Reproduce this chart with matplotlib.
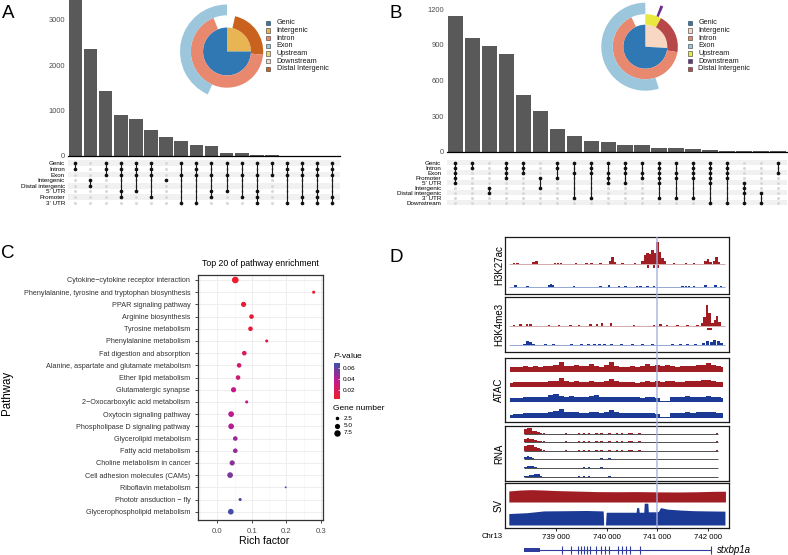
import numpy as np
import matplotlib
matplotlib.use('Agg')
import matplotlib.pyplot as plt
from matplotlib.colors import LinearSegmentedColormap, Normalize
from matplotlib.cm import ScalarMappable
from matplotlib.patches import Rectangle

plt.rcParams['font.family'] = ['Liberation Sans', 'DejaVu Sans']
plt.rcParams['mathtext.fontset'] = 'custom'
plt.rcParams['mathtext.rm'] = 'Liberation Sans'
plt.rcParams['mathtext.it'] = 'Liberation Sans:italic'

# ---------------- A: upset + donut ----------------
a_sets = ['Genic', 'Intron', 'Exon', 'Intergenic', 'Distal intergenic', "5' UTR", 'Promoter', "3' UTR"]
a_counts = [3520, 2360, 1440, 900, 810, 570, 410, 320, 250, 220, 75, 65, 25, 25, 6, 5, 4, 3]
a_combos = [
    ['Genic', 'Intron'],
    ['Intergenic', 'Distal intergenic'],
    ['Genic', 'Intron', 'Exon'],
    ['Genic', 'Intron', 'Exon', "5' UTR", 'Promoter'],
    ['Genic', 'Intron', 'Exon', "5' UTR"],
    ['Genic', 'Intron', 'Exon', 'Promoter'],
    ['Intergenic'],
    ['Genic', 'Exon', "3' UTR"],
    ['Genic', 'Intron', 'Exon', "3' UTR"],
    ['Genic', 'Exon', "5' UTR", 'Promoter'],
    ['Genic', 'Exon', "5' UTR"],
    ['Genic', 'Exon', 'Promoter'],
    ['Genic', 'Exon', "5' UTR", 'Promoter', "3' UTR"],
    ['Genic', 'Exon'],
    ['Genic', 'Intron', 'Exon', "3' UTR"],
    ['Genic', 'Intron', 'Exon', 'Promoter', "3' UTR"],
    ['Genic', 'Intron', 'Exon', "5' UTR", 'Promoter', "3' UTR"],
    ['Genic', 'Intron', 'Exon', 'Promoter', "3' UTR"],
]
a_yticks = [0, 1000, 2000, 3000]
# donut rings: labels, values ('' = not shown)
a_inner_lab, a_inner_val = ['Intergenic', 'Genic'], [25, 75]
a_mid_lab, a_mid_val = ['Distal Intergenic', 'Intron', ''], [22.8, 67.5, 9.7]
a_out_lab, a_out_val = ['', 'Exon'], [56.7, 43.3]

# ---------------- B: upset + donut ----------------
b_sets = ['Genic', 'Intron', 'Exon', 'Promoter', "5' UTR", 'Intergenic', 'Distal intergenic', "3' UTR", 'Downstream']
b_counts = [1145, 955, 890, 825, 480, 345, 190, 135, 95, 80, 55, 55, 30, 30, 25, 18, 12, 8, 5, 5]
b_combos = [
    ['Genic', 'Intron', 'Exon', 'Promoter', "5' UTR"],
    ['Genic', 'Intron'],
    ['Intergenic', 'Distal intergenic'],
    ['Genic', 'Intron', 'Exon', 'Promoter'],
    ['Genic', 'Intron', 'Exon'],
    ['Promoter', 'Intergenic'],
    ['Genic', 'Intron', 'Promoter'],
    ['Genic', 'Exon', "3' UTR"],
    ['Genic', 'Intron', 'Exon', "3' UTR"],
    ['Genic', 'Exon', 'Promoter', "5' UTR"],
    ['Genic', 'Intron', 'Exon', "5' UTR"],
    ['Genic', 'Exon', 'Promoter'],
    ['Genic', 'Intron', 'Exon', 'Promoter', "5' UTR", "3' UTR"],
    ['Genic', 'Exon', 'Promoter', "3' UTR"],
    ['Genic', 'Intron', 'Exon', 'Promoter', "3' UTR"],
    ['Genic', 'Intron', 'Exon', 'Promoter', "5' UTR", 'Downstream'],
    ['Genic', 'Intron', 'Exon', 'Promoter', 'Downstream'],
    ["5' UTR", 'Intergenic', 'Distal intergenic', 'Downstream'],
    ['Distal intergenic', 'Downstream'],
    ['Genic', 'Exon'],
]
b_yticks = [0, 300, 600, 900, 1200]
b_inner_lab, b_inner_val = ['Intergenic', 'Genic'], [26, 74]
b_mid_lab, b_mid_val = ['Upstream', 'Distal Intergenic', 'Intron', ''], [8, 19.7, 65.3, 7]
b_out_lab, b_out_val = ['', 'Downstream', '', 'Exon'], [5.6, 1.1, 38.3, 55]

legend_names = ['Genic', 'Intergenic', 'Intron', 'Exon', 'Upstream', 'Downstream', 'Distal Intergenic']
colors_a = {'Genic': '#2F78B4', 'Intergenic': '#E9B452', 'Intron': '#E8886E', 'Exon': '#9CC6DB',
            'Upstream': '#EDD27A', 'Downstream': '#F6DCCC', 'Distal Intergenic': '#C8621E', '': 'none'}
colors_b = {'Genic': '#2F78B4', 'Intergenic': '#F8D7C3', 'Intron': '#E8886E', 'Exon': '#9CC6DB',
            'Upstream': '#E9E83C', 'Downstream': '#6A2E90', 'Distal Intergenic': '#B8474A', '': 'none'}

# ---------------- C: pathway enrichment ----------------
c_pathways = ['Cytokine\u2212cytokine receptor interaction',
              'Phenylalanine, tyrosine and tryptophan biosynthesis',
              'PPAR signaling pathway', 'Arginine biosynthesis', 'Tyrosine metabolism',
              'Phenylalanine metabolism', 'Fat digestion and absorption',
              'Alanine, aspartate and glutamate metabolism', 'Ether lipid metabolism',
              'Glutamatergic synapse', '2\u2212Oxocarboxylic acid metabolism',
              'Oxytocin signaling pathway', 'Phospholipase D signaling pathway',
              'Glycerolipid metabolism', 'Fatty acid metabolism', 'Choline metabolism in cancer',
              'Cell adhesion molecules (CAMs)', 'Riboflavin metabolism',
              'Phototr ansduction \u2212 fly', 'Glycerophospholipid metabolism']
c_rich = [0.052, 0.279, 0.076, 0.099, 0.096, 0.143, 0.078, 0.063, 0.060, 0.047,
          0.085, 0.040, 0.040, 0.052, 0.052, 0.043, 0.037, 0.198, 0.066, 0.039]
c_pvalue = [0.006, 0.008, 0.009, 0.010, 0.011, 0.016, 0.020, 0.026, 0.029, 0.034,
            0.040, 0.038, 0.040, 0.046, 0.047, 0.050, 0.054, 0.058, 0.064, 0.066]
c_genes = [8, 2, 5, 4, 4, 2, 4, 4, 4, 5, 2, 6, 6, 4, 4, 5, 6, 1, 2, 6]
c_size_legend = [2.5, 5.0, 7.5]

# ---------------- D: genome tracks (chr13) ----------------
d_ticks = [739000, 740000, 741000, 742000]
d_ticklabels = ['739 000', '740 000', '741 000', '742 000']
k27_red_pos = [738170, 738240, 738560, 738620, 738980, 739040, 739100, 739390, 739600, 739700,
               739880, 740060, 740110, 740160, 740310, 740560, 740700, 740750, 740800, 740850,
               740900, 740950, 741000, 741050, 741100, 741150, 741330, 741560, 741720, 741950,
               742000, 742050, 742120, 742160, 742210]
k27_red_val = [4, 3, 6, 9, 3, 4, 3, 2, 3, 3, 2, 8, 21, 6, 3, 4, 8, 28, 35, 30,
               44, 35, 67, 38, 20, 8, 3, 3, 3, 8, 16, 5, 10, 22, 6]
k27_calls = [740820, 740940, 741020]
k27_blue_pos = [738205, 738435, 738860, 738900, 738940, 739355, 739880, 740047, 740244, 740375,
                740600, 740670, 740800, 740932, 741490, 741560, 741623, 741722, 741952, 742149, 742250]
k27_blue_val = [6, 5, 8, 10, 6, 4, 5, 6, 5, 5, 4, 5, 5, 5, 5, 4, 5, 4, 6, 6, 5]
k4_red_pos = [738170, 738300, 738430, 738500, 738860, 739060, 739290, 739450, 739680, 739810,
              739910, 740080, 740540, 740930, 741060, 741190, 741390, 741590, 741790, 741880,
              741930, 741980, 742030, 742080, 742130, 742170, 742220]
k4_red_val = [4, 5, 6, 5, 4, 3, 3, 4, 5, 6, 9, 10, 3, 4, 5, 3, 3, 3, 4, 8,
              30, 67, 40, 10, 18, 32, 12]
k4_calls = [742020]
k4_blue_pos = [738380, 738440, 738500, 738560, 738800, 738950, 739300, 739500, 739650, 739750,
               739850, 739950, 740100, 740300, 740500, 740700, 740900, 741300, 741450, 741600,
               741750, 741900, 741980, 742060, 742130, 742200, 742260]
k4_blue_val = [4, 12, 10, 5, 3, 3, 3, 4, 4, 5, 4, 4, 3, 3, 4, 3, 3, 3, 4, 4,
               4, 8, 12, 10, 16, 14, 8]
atac_start, atac_bin = 738100, 100
atac_red1 = [30, 34, 30, 36, 32, 38, 34, 36, 40, 44, 62, 40, 36, 42, 38, 40, 48, 36, 34, 42, 62, 40,
             34, 32, 36, 30, 38, 50, 40, 44, 36, 46, 38, 34, 36, 38, 40, 44, 46, 56, 42, 36, 32]
atac_red2 = [26, 30, 28, 32, 30, 34, 30, 32, 36, 40, 54, 38, 34, 36, 32, 34, 40, 30, 32, 36, 48, 36,
             30, 28, 30, 26, 32, 36, 34, 36, 32, 40, 36, 30, 34, 40, 36, 38, 44, 42, 36, 32, 28]
atac_blue1 = [22, 26, 24, 30, 28, 32, 30, 34, 44, 52, 36, 30, 40, 34, 30, 32, 36, 44, 30, 28, 34, 30,
              32, 28, 30, 34, 26, 30, 28, 22, 6, 4, 30, 34, 32, 36, 30, 34, 32, 36, 34, 30, 26]
atac_blue2 = [20, 24, 26, 28, 30, 30, 32, 34, 40, 44, 56, 38, 40, 36, 34, 32, 38, 40, 34, 36, 48, 40,
              32, 30, 34, 32, 30, 34, 30, 26, 8, 6, 28, 32, 34, 36, 32, 36, 38, 40, 36, 32, 28]
rna_pos = [738400, 738450, 738500, 738550, 738600, 738650, 738700, 738760, 739000, 739200, 739450,
           739550, 739650, 739800, 739900, 740050, 740200, 740300, 740450, 740500, 740650, 742080, 742170]
rna_tracks = [
    [0.95, 1.1, 1.0, 0.6, 0.45, 0.3, 0.2, 0.1, 0.05, 0.1, 0.15, 0.12, 0.15, 0.12, 0.1, 0.15, 0.12, 0.15, 0.15, 0.15, 0.1, 0.08, 0.1],
    [0.6, 0.75, 0.6, 0.45, 0.35, 0.25, 0.15, 0.1, 0.05, 0.1, 0.12, 0.1, 0.12, 0.1, 0.1, 0.12, 0.1, 0.12, 0.12, 0.15, 0.1, 0.08, 0.1],
    [0.9, 1.05, 1.1, 1.0, 0.8, 0.5, 0.35, 0.2, 0.05, 0.1, 0.12, 0.1, 0.15, 0.12, 0.1, 0.12, 0.1, 0.12, 0.15, 0.12, 0.1, 0.08, 0.1],
    [0.3, 0.45, 0.35, 0.1, 0.05, 0.05, 0.0, 0.0, 0.05, 0.0, 0.05, 0.08, 0.05, 0.08, 0.1, 0.1, 0.05, 0.08, 0.05, 0.0, 0.0, 0.0, 0.05],
    [0.2, 0.35, 0.3, 0.4, 0.2, 0.05, 0.05, 0.0, 0.05, 0.0, 0.05, 0.1, 0.1, 0.08, 0.1, 0.05, 0.08, 0.05, 0.05, 0.0, 0.0, 0.0, 0.05],
    [0.1, 0.2, 0.3, 0.35, 0.45, 0.5, 0.2, 0.05, 0.05, 0.05, 0.1, 0.1, 0.1, 0.05, 0.05, 0.1, 0.05, 0.08, 0.05, 0.05, 0.0, 0.0, 0.05],
]
rna_span = (738369, 742195)
sv_red_pos = [738070, 738300, 738500, 738700, 739000, 739400, 739800, 740200, 740600, 741000,
              741400, 741800, 742100, 742340]
sv_red_val = [85, 92, 95, 93, 88, 84, 80, 79, 80, 78, 77, 79, 82, 83]
sv_blue_pos = [738070, 738430, 738760, 739200, 739600, 739930, 739940, 739975, 739990, 740300,
               740580, 740590, 740630, 740640, 740730, 740740, 740810, 740820, 740990, 741020,
               741060, 741200, 741450, 741720, 742000, 742330]
sv_blue_val = [52, 56, 64, 65, 66, 64, 0, 0, 58, 58,
               58, 79, 79, 58, 58, 99, 99, 60, 60, 62,
               79, 72, 68, 65, 64, 63]
gene_span = (738369, 742051)
gene_utr = (738369, 738684)
gene_exons = [739125, 739302, 739434, 739500, 739552, 739618, 739671, 739796, 739881, 739967,
              740046, 740230, 740309, 740388, 740460, 740651, 742051]

# ---------------- layout helpers (pixel boxes) ----------------
W, H = 788, 555


def rect(x0, y0, x1, y1):
    return [x0 / W, 1 - y1 / H, (x1 - x0) / W, (y1 - y0) / H]


fig = plt.figure(figsize=(W / 100, H / 100), dpi=100)
ov = fig.add_axes([0, 0, 1, 1])
ov.set_xlim(0, W)
ov.set_ylim(H, 0)
ov.axis('off')


def upset(counts, combos, sets, bar_box, mat_box, ymax, yticks, pad):
    n = len(counts)
    xs = np.arange(n)
    ax = fig.add_axes(rect(*bar_box))
    ax.bar(xs, counts, width=0.9, color='#595959')
    ax.set_xlim(-0.5, n - 0.5)
    ax.set_ylim(0, ymax)
    ax.set_yticks(yticks)
    ax.tick_params(axis='y', length=0, labelsize=5.4, labelcolor='#4D4D4D', pad=2)
    ax.set_xticks([])
    for s in ['top', 'right', 'left']:
        ax.spines[s].set_visible(False)
    ax.spines['bottom'].set_linewidth(0.9)
    ax.patch.set_visible(False)

    axm = fig.add_axes(rect(*mat_box))
    axm.set_xlim(-0.5, n - 0.5)
    axm.set_ylim(len(sets) - 0.5, -0.5)
    for i in range(0, len(sets), 2):
        axm.axhspan(i - 0.5, i + 0.5, color='#F1F1F1', lw=0)
    gx, gy = np.meshgrid(xs, np.arange(len(sets)))
    axm.scatter(gx.ravel(), gy.ravel(), s=5, color='#D9D9D9', lw=0)
    for j, combo in enumerate(combos):
        rows = [sets.index(c) for c in combo]
        axm.plot([j, j], [min(rows), max(rows)], color='#1A1A1A', lw=0.8, zorder=2)
        axm.scatter([j] * len(rows), rows, s=7, color='#111111', lw=0, zorder=3)
    axm.set_yticks(range(len(sets)))
    axm.set_yticklabels(sets)
    axm.tick_params(axis='y', length=0, labelsize=4.5, pad=pad)
    axm.set_xticks([])
    for s in axm.spines.values():
        s.set_visible(False)


def donut(cx, cy, R, rings, colors):
    ax = fig.add_axes(rect(cx - R, cy - R, cx + R, cy + R))
    for labels, vals, r_in, r_out, start in rings:
        ax.pie(vals, colors=[colors[l] for l in labels], radius=r_out, startangle=start,
               counterclock=False, wedgeprops=dict(width=r_out - r_in, linewidth=0))
    ax.set_xlim(-1, 1)
    ax.set_ylim(-1, 1)
    ax.set_aspect('equal')


def legend_box(x, y0, dy, colors):
    for i, name in enumerate(legend_names):
        y = y0 + i * dy
        ov.add_patch(Rectangle((x - 2.2, y - 2.2), 4.4, 4.4, facecolor=colors[name],
                               edgecolor='#333333', lw=0.4))
        ov.text(x + 8.5, y, name, fontsize=5.2, va='center', ha='left', color='#1A1A1A')


# ---- A ----
upset(a_counts, a_combos, a_sets, (67.8, 0, 340, 156), (67.8, 160.5, 340, 205.5), 3440, a_yticks, 2)
donut(227, 51.5, 47, [(a_inner_lab, a_inner_val, 0, 0.51, 90),
                      (a_mid_lab, a_mid_val, 0.51, 0.77, 77),
                      (a_out_lab, a_out_val, 0.77, 1.0, 90)], colors_a)
legend_box(268.3, 22.7, 7.7, colors_a)

# ---- B ----
upset(b_counts, b_combos, b_sets, (446.8, 0, 786.5, 152), (446.8, 160.2, 786.5, 205.2), 1277, b_yticks, 4)
donut(645.3, 46.7, 44, [(b_inner_lab, b_inner_val, 0, 0.5, 90),
                        (b_mid_lab, b_mid_val, 0.5, 0.74, 90),
                        (b_out_lab, b_out_val, 0.74, 1.0, 90)], colors_b)
legend_box(690, 22.7, 7.7, colors_b)

# ---- C ----
cmap = LinearSegmentedColormap.from_list('pv', ['#EE1D26', '#C2198D', '#3854A5'])
norm = Normalize(0.004, 0.069)


def dot_size(n):
    return 3.0 * np.asarray(n, dtype=float) - 1.0


axc = fig.add_axes(rect(198, 275, 323, 520))
yy = np.arange(len(c_pathways))
axc.scatter(c_rich, yy, s=dot_size(c_genes), c=c_pvalue, cmap=cmap, norm=norm, lw=0, zorder=3)
axc.set_xlim(-0.056, 0.306)
axc.set_ylim(len(yy) - 0.32, -0.41)
axc.set_xticks([0.0, 0.1, 0.2, 0.3])
axc.set_xticklabels(['0.0', '0.1', '0.2', '0.3'])
axc.set_xticks([-0.05, 0.05, 0.15, 0.25], minor=True)
axc.set_yticks(yy)
axc.set_yticklabels(c_pathways)
axc.set_axisbelow(True)
axc.grid(which='major', color='#EBEBEB', lw=0.6)
axc.grid(which='minor', axis='x', color='#F4F4F4', lw=0.4)
axc.tick_params(which='minor', length=0)
axc.tick_params(axis='y', labelsize=5.2, length=2.5, width=0.5, pad=3, labelcolor='#333333')
axc.tick_params(axis='x', labelsize=5.6, length=2.5, width=0.5, pad=3, labelcolor='#4D4D4D')
for s in axc.spines.values():
    s.set_linewidth(0.9)
    s.set_color('#333333')
ov.text(260.5, 263, 'Top 20 of pathway enrichment', fontsize=6.3, ha='center', va='center')
ov.text(264, 541, 'Rich factor', fontsize=7.6, ha='center', va='center')
ov.text(7, 393, 'Pathway', fontsize=8.3, rotation=90, ha='center', va='center')

cax = fig.add_axes(rect(334, 363, 340, 399))
cb = fig.colorbar(ScalarMappable(norm=norm, cmap=cmap), cax=cax)
cb.set_ticks([0.02, 0.04, 0.06])
cb.set_ticklabels(['0.02', '0.04', '0.06'])
cb.outline.set_visible(False)
cax.tick_params(length=1.5, width=0.5, color='white', direction='in', labelsize=4.6, pad=2)
ov.text(333, 355, r'$\it{P}$-value', fontsize=6, ha='left', va='center')
ov.text(333, 409, 'Gene number', fontsize=6, ha='left', va='center')
for i, v in enumerate(c_size_legend):
    y = 418 + i * 7.5
    ov.scatter([337.5], [y], s=dot_size(v), color='black', lw=0)
    ov.text(344, y, f'{v:.1f}', fontsize=4.6, ha='left', va='center')

# ---- D ----
g_lim = (737995, 742410)
red, blue = '#A11D24', '#1B3A95'


def track_ax(top, bottom, name):
    a = fig.add_axes(rect(505, top, 729, bottom))
    a.set_xlim(*g_lim)
    a.set_ylim(bottom, top)
    a.set_xticks([])
    a.set_yticks([])
    for s in a.spines.values():
        s.set_linewidth(0.9)
        s.set_color('#1A1A1A')
    ov.text(499, (top + bottom) / 2, name, rotation=90, ha='center', va='center', fontsize=7)
    return a


def bars(a, pos, vals, base, scale, color, width=50):
    a.bar(pos, -np.asarray(vals, dtype=float) * scale, bottom=base, width=width, color=color, lw=0)


def steps(a, vals, base, scale, color):
    x = atac_start + atac_bin * np.arange(len(vals))
    a.fill_between(x, base, base - np.asarray(vals, dtype=float) * scale, step='mid', color=color, lw=0)


def area(a, pos, vals, base, scale, color):
    a.fill_between(pos, base, base - np.asarray(vals, dtype=float) * scale, color=color, lw=0)


# H3K27ac
a1 = track_ax(237, 294, 'H3K27ac')
a1.hlines(264, 738070, 742340, color='#D09A9C', lw=0.6)
bars(a1, k27_red_pos, k27_red_val, 264, 21.5 / 67, red)
a1.bar(k27_calls, 2.8, bottom=265, width=40, color=red, lw=0)
a1.hlines(287, 738070, 742340, color='#6F86C8', lw=0.5)
bars(a1, k27_blue_pos, k27_blue_val, 287, 20 / 67, blue)
ov.text(512, 243, '[0-67]', fontsize=2.5, ha='left', va='center')

# H3K4me3
a2 = track_ax(297, 352, 'H3K4me3')
a2.hlines(326, 738070, 742340, color='#D09A9C', lw=0.6)
bars(a2, k4_red_pos, k4_red_val, 326, 21 / 67, red)
a2.bar(k4_calls, 2.8, bottom=327.5, width=105, color=red, lw=0)
a2.hlines(345, 738070, 742340, color='#6F86C8', lw=0.5)
bars(a2, k4_blue_pos, k4_blue_val, 345, 20 / 67, blue, width=60)
ov.text(512, 303, '[0-67]', fontsize=2.5, ha='left', va='center')

# ATAC
a3 = track_ax(358, 422, 'ATAC')
for vals, base, col in [(atac_red1, 372, red), (atac_red2, 387, red),
                        (atac_blue1, 402, blue), (atac_blue2, 418, blue)]:
    steps(a3, vals, base, 11 / 68, col)
ov.text(512, 362, '[0-68]', fontsize=2.5, ha='left', va='center')

# RNA
a4 = track_ax(426, 481, 'RNA')
for vals, base, col in zip(rna_tracks, [434, 442, 451, 459, 468, 477], [red, red, red, blue, blue, blue]):
    a4.hlines(base, *rna_span, color='#333333', lw=0.6)
    bars(a4, rna_pos, vals, base, 6.5 / 1.16, col)
ov.text(512, 430, '[0-1.16]', fontsize=2.5, ha='left', va='center')

# SV
a5 = track_ax(483, 528, 'SV')
area(a5, sv_red_pos, sv_red_val, 502, 13 / 100, red)
area(a5, sv_blue_pos, sv_blue_val, 525, 22 / 100, blue)
a5.set_xticks(d_ticks)
a5.set_xticklabels(d_ticklabels)
a5.tick_params(axis='x', length=2.5, width=0.6, labelsize=5.6, pad=1.5)
ov.text(482, 536.5, 'Chr13', fontsize=5.6, ha='left', va='center')

# highlight line at 741 000
al = fig.add_axes(rect(505, 237, 729, 528))
al.set_xlim(*g_lim)
al.axis('off')
al.axvline(741000, color='#A3B0DD', lw=1.3, alpha=0.75)

# gene model
ag = fig.add_axes(rect(505, 543, 729, 557))
ag.set_xlim(*g_lim)
ag.set_ylim(-1, 1)
ag.axis('off')
gene_col = '#2F3C9E'
ag.hlines(0, *gene_span, color=gene_col, lw=0.8)
ag.add_patch(Rectangle((gene_utr[0], -0.35), gene_utr[1] - gene_utr[0], 0.7, color=gene_col, lw=0))
ag.vlines(gene_exons, -0.55, 0.55, color=gene_col, lw=0.8)
ov.text(717, 550, 'stxbp1a', fontsize=7, style='italic', ha='left', va='center')

# panel letters
for letter, x, y in [('A', 8, 14), ('B', 396, 14), ('C', 8, 253), ('D', 396, 257)]:
    ov.text(x, y, letter, fontsize=13.5, ha='center', va='center')

fig.savefig('out.png', dpi=100)
